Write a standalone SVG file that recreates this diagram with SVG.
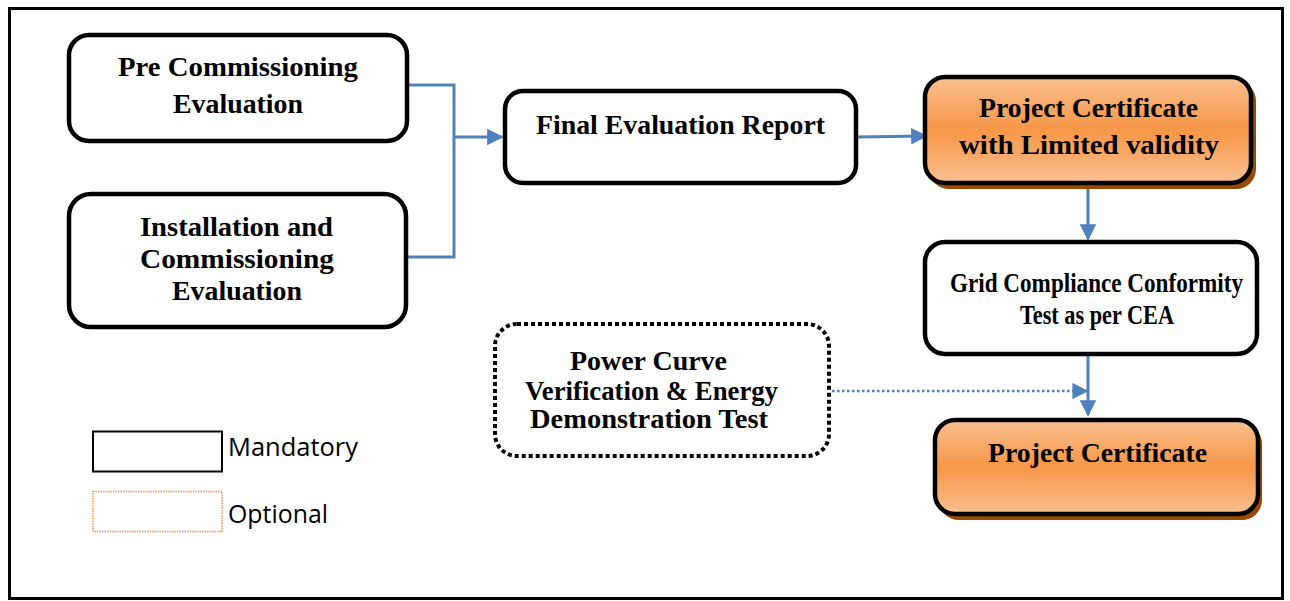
<svg xmlns="http://www.w3.org/2000/svg" width="1290" height="601" viewBox="0 0 1290 601">
<style>
.box{fill:#fff;stroke:#000;stroke-width:4.5}
.opt{fill:url(#og);stroke:#000;stroke-width:4.5}
.sh{fill:#984807}
.t{font-family:"Liberation Serif","Times New Roman",serif;font-weight:bold;font-size:27px;fill:#000}
.c{fill:none;stroke:#4f81bd;stroke-width:3}
.lg{font-family:"Open Sans","Liberation Sans",sans-serif;font-size:25px;fill:#000}
</style>
<defs>
<linearGradient id="og" x1="0" y1="0" x2="0" y2="1">
<stop offset="0" stop-color="#fac090"/>
<stop offset="0.5" stop-color="#f79646"/>
<stop offset="1" stop-color="#fac090"/>
</linearGradient>
<marker id="ah" viewBox="0 0 10 10" refX="9" refY="5" markerWidth="5.5" markerHeight="5.5" markerUnits="strokeWidth" orient="auto">
<path d="M0,0 L10,5 L0,10 z" fill="#4f81bd"/>
</marker>
<marker id="ah2" viewBox="0 0 10 10" refX="9" refY="5" markerWidth="6.5" markerHeight="6.5" markerUnits="strokeWidth" orient="auto">
<path d="M0,0 L10,5 L0,10 z" fill="#4f81bd"/>
</marker>
</defs>
<rect x="9.5" y="8.5" width="1273" height="590" fill="#fff" stroke="#000" stroke-width="3"/>

<g id="connectors">
<polyline class="c" points="405,85 454,85 454,257 405,257"/>
<line class="c" x1="454" y1="137" x2="502" y2="137" marker-end="url(#ah)"/>
<line class="c" x1="857" y1="137" x2="926" y2="136" marker-end="url(#ah)"/>
<line class="c" x1="1088" y1="185" x2="1088" y2="239" marker-end="url(#ah)"/>
<line class="c" x1="1088" y1="355" x2="1088" y2="415" marker-end="url(#ah)"/>
<line x1="832" y1="391" x2="1087" y2="391" fill="none" stroke="#4f81bd" stroke-width="2.5" stroke-dasharray="2.5,2.5" marker-end="url(#ah2)"/>
</g>

<g id="pre">
<rect class="box" x="69" y="35" width="338" height="106" rx="20"/>
<text class="t" x="118" y="76" textLength="240" lengthAdjust="spacingAndGlyphs">Pre Commissioning</text>
<text class="t" x="173" y="113" textLength="130" lengthAdjust="spacingAndGlyphs">Evaluation</text>
</g>

<g id="install">
<rect class="box" x="69" y="194" width="337" height="133" rx="22"/>
<text class="t" x="140" y="236" textLength="193" lengthAdjust="spacingAndGlyphs">Installation and</text>
<text class="t" x="140" y="268" textLength="194" lengthAdjust="spacingAndGlyphs">Commissioning</text>
<text class="t" x="172" y="300" textLength="130" lengthAdjust="spacingAndGlyphs">Evaluation</text>
</g>

<g id="final">
<rect class="box" x="505" y="91" width="351" height="92" rx="18"/>
<text class="t" x="536" y="134" textLength="289" lengthAdjust="spacingAndGlyphs">Final Evaluation Report</text>
</g>

<g id="pcl">
<rect class="sh" x="929" y="81" width="327" height="108" rx="20"/>
<rect class="opt" x="925" y="77" width="326" height="106" rx="20"/>
<text class="t" x="979" y="117" textLength="219" lengthAdjust="spacingAndGlyphs">Project Certificate</text>
<text class="t" x="959" y="154" textLength="260" lengthAdjust="spacingAndGlyphs">with Limited validity</text>
</g>

<g id="grid">
<rect class="box" x="925" y="242" width="332" height="112" rx="20"/>
<text class="t" x="950" y="292" font-size="24" textLength="293" lengthAdjust="spacingAndGlyphs">Grid Compliance Conformity</text>
<text class="t" x="1020" y="324" font-size="24" textLength="154" lengthAdjust="spacingAndGlyphs">Test as per CEA</text>
</g>

<g id="pc">
<rect class="sh" x="939" y="424" width="323" height="96" rx="20"/>
<rect class="opt" x="935" y="420" width="323" height="94" rx="20"/>
<text class="t" x="988" y="462" textLength="219" lengthAdjust="spacingAndGlyphs">Project Certificate</text>
</g>

<g id="power">
<rect x="495" y="324" width="334" height="132" rx="22" fill="#fff" stroke="#000" stroke-width="4" stroke-dasharray="4,3"/>
<text class="t" x="570" y="370" textLength="157" lengthAdjust="spacingAndGlyphs">Power Curve</text>
<text class="t" x="525" y="400" textLength="253" lengthAdjust="spacingAndGlyphs">Verification &amp; Energy</text>
<text class="t" x="530" y="428" textLength="238" lengthAdjust="spacingAndGlyphs">Demonstration Test</text>
</g>

<g id="legend">
<rect x="93" y="431.5" width="129" height="40" fill="#fff" stroke="#000" stroke-width="2"/>
<text class="lg" x="228" y="456" textLength="130" lengthAdjust="spacingAndGlyphs">Mandatory</text>
<rect x="93" y="491.5" width="129" height="40" fill="#fff" stroke="#f79646" stroke-width="1.5" stroke-dasharray="1.5,1"/>
<text class="lg" x="228" y="523" textLength="100" lengthAdjust="spacingAndGlyphs">Optional</text>
</g>
</svg>
